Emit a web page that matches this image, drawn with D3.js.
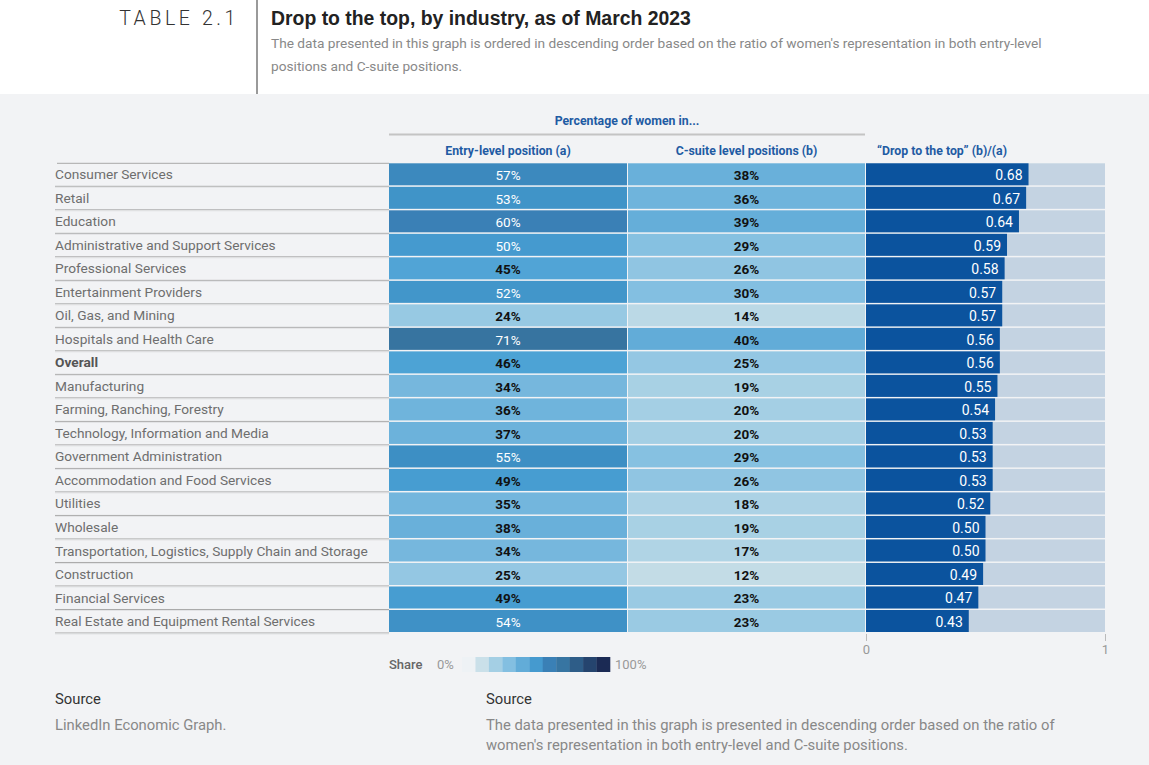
<!DOCTYPE html>
<html lang="en">
  <head>
    <meta charset="UTF-8" />
    <title>Drop to the top, by industry</title>
    <script src="https://d3js.org/d3.v7.min.js"></script>
    <style>
      body {
        margin: 0;
        background: #f2f3f5;
        font-family: Roboto, "Liberation Sans", sans-serif;
      }
      svg {
        display: block;
      }
      .label {
        font-size: 13.7px;
        fill: #6e6e6e;
      }
      .label.overall {
        font-weight: bold;
        fill: #555;
      }
      .head {
        font-size: 12.3px;
        font-weight: bold;
        fill: #1f5ba3;
      }
      .val {
        font-size: 13.5px;
        text-anchor: middle;
      }
    </style>
  </head>
  <body>
    <svg id="chart" width="1149" height="765"></svg>
    <script>
      var industries = [
        "Consumer Services",
        "Retail",
        "Education",
        "Administrative and Support Services",
        "Professional Services",
        "Entertainment Providers",
        "Oil, Gas, and Mining",
        "Hospitals and Health Care",
        "Overall",
        "Manufacturing",
        "Farming, Ranching, Forestry",
        "Technology, Information and Media",
        "Government Administration",
        "Accommodation and Food Services",
        "Utilities",
        "Wholesale",
        "Transportation, Logistics, Supply Chain and Storage",
        "Construction",
        "Financial Services",
        "Real Estate and Equipment Rental Services"
      ];
      var entryLevel = [57, 53, 60, 50, 45, 52, 24, 71, 46, 34, 36, 37, 55, 49, 35, 38, 34, 25, 49, 54];
      var cSuite = [38, 36, 39, 29, 26, 30, 14, 40, 25, 19, 20, 20, 29, 26, 18, 19, 17, 12, 23, 23];
      var dropToTop = [0.68, 0.67, 0.64, 0.59, 0.58, 0.57, 0.57, 0.56, 0.56, 0.55, 0.54, 0.53, 0.53, 0.53, 0.52, 0.50, 0.50, 0.49, 0.47, 0.43];
      var axisTicks = [0, 1];
      var legendSteps = [0, 10, 20, 30, 40, 50, 60, 70, 80, 90, 100];

      var svg = d3.select("#chart");

      // header band
      svg.append("rect").attr("width", 1149).attr("height", 94).attr("fill", "#fff");
      svg.append("line")
        .attr("x1", 257).attr("x2", 257).attr("y1", 0).attr("y2", 94)
        .attr("stroke", "#9a9a9a").attr("stroke-width", 2);
      svg.append("text")
        .attr("x", 239).attr("y", 25)
        .attr("text-anchor", "end")
        .style("font-size", "19.5px")
        .style("font-weight", 300)
        .style("letter-spacing", "3.6px")
        .attr("fill", "#333")
        .text("TABLE 2.1");
      svg.append("text")
        .attr("x", 271).attr("y", 25)
        .style("font-size", "19.4px")
        .style("font-weight", "bold")
        .style("font-family", "'Liberation Sans', Arial, sans-serif")
        .attr("fill", "#222")
        .text("Drop to the top, by industry, as of March 2023");
      svg.append("text")
        .attr("x", 271).attr("y", 48)
        .style("font-size", "13.7px")
        .attr("fill", "#888")
        .text("The data presented in this graph is ordered in descending order based on the ratio of women's representation in both entry-level");
      svg.append("text")
        .attr("x", 271).attr("y", 71)
        .style("font-size", "13.7px")
        .attr("fill", "#888")
        .text("positions and C-suite positions.");

      // layout
      var col = {
        entry: [389, 627],
        csuite: [628, 865],
        drop: [866, 1105]
      };
      var y = d3.scaleBand()
        .domain(industries)
        .range([163.3, 633.5]);
      var x = d3.scaleLinear().domain([0, 1]).range([col.drop[0], col.drop[1]]);

      var color = d3.scaleLinear()
        .domain([0, 12, 20, 30, 40, 47, 55, 60, 71, 100])
        .range(["#eef2f5", "#c3dce6", "#a4cfe4", "#83bfe1", "#62acd8", "#4aa1d5", "#3d8fc4", "#3a80b6", "#3774a0", "#1b2a54"])
        .interpolate(d3.interpolateRgb);

      // column headers
      svg.append("text").attr("class", "head")
        .attr("x", (col.entry[0] + col.csuite[1]) / 2).attr("y", 125)
        .attr("text-anchor", "middle")
        .text("Percentage of women in...");
      svg.append("line")
        .attr("x1", col.entry[0]).attr("x2", col.csuite[1])
        .attr("y1", 134.5).attr("y2", 134.5)
        .attr("stroke", "#c4c4c4").attr("stroke-width", 2);
      svg.append("text").attr("class", "head")
        .attr("x", (col.entry[0] + col.entry[1]) / 2).attr("y", 155)
        .attr("text-anchor", "middle")
        .text("Entry-level position (a)");
      svg.append("text").attr("class", "head")
        .attr("x", (col.csuite[0] + col.csuite[1]) / 2).attr("y", 155)
        .attr("text-anchor", "middle")
        .text("C-suite level positions (b)");
      svg.append("text").attr("class", "head")
        .attr("x", 877).attr("y", 155)
        .text("\u201cDrop to the top\u201d (b)/(a)");

      var rows = industries.map(function (d, i) {
        return { name: d, entry: entryLevel[i], csuite: cSuite[i], drop: dropToTop[i] };
      });

      // label separators
      svg.append("line")
        .attr("x1", 57).attr("x2", col.entry[0])
        .attr("y1", y.range()[0]).attr("y2", y.range()[0])
        .attr("stroke", "#a8a8a8").attr("stroke-width", 1);

      var rowG = svg.append("g").selectAll("g")
        .data(rows)
        .enter()
        .append("g")
        .attr("transform", function (d) {
          return "translate(0," + y(d.name) + ")";
        });

      var h = y.bandwidth();

      rowG.append("line")
        .attr("x1", 55).attr("x2", col.entry[0])
        .attr("y1", h - 0.5).attr("y2", h - 0.5)
        .attr("stroke", "#a8a8a8").attr("stroke-width", 1);
      rowG.append("line")
        .attr("x1", 55).attr("x2", col.entry[0])
        .attr("y1", h + 0.5).attr("y2", h + 0.5)
        .attr("stroke", "#e2e3e5").attr("stroke-width", 1);

      rowG.append("text")
        .attr("class", function (d) {
          return d.name == "Overall" ? "label overall" : "label";
        })
        .attr("x", 55)
        .attr("y", h / 2 - 0.5)
        .attr("dy", "0.35em")
        .text(function (d) { return d.name; });

      // entry level cells
      rowG.append("rect")
        .attr("x", col.entry[0])
        .attr("width", col.entry[1] - col.entry[0])
        .attr("height", h - 1.5)
        .attr("fill", function (d) { return color(d.entry); });
      rowG.append("text")
        .attr("class", "val")
        .attr("x", (col.entry[0] + col.entry[1]) / 2)
        .attr("y", h / 2)
        .attr("dy", "0.37em")
        .attr("fill", function (d) { return d.entry >= 50 ? "#fff" : "#111"; })
        .style("font-weight", function (d) { return d.entry >= 50 ? 400 : "bold"; })
        .text(function (d) { return d.entry + "%"; });

      // c-suite cells
      rowG.append("rect")
        .attr("x", col.csuite[0])
        .attr("width", col.csuite[1] - col.csuite[0])
        .attr("height", h - 1.5)
        .attr("fill", function (d) { return color(d.csuite); });
      rowG.append("text")
        .attr("class", "val")
        .attr("x", (col.csuite[0] + col.csuite[1]) / 2)
        .attr("y", h / 2)
        .attr("dy", "0.37em")
        .attr("fill", function (d) { return d.csuite >= 50 ? "#fff" : "#111"; })
        .style("font-weight", "bold")
        .text(function (d) { return d.csuite + "%"; });

      // drop to the top bars
      rowG.append("rect")
        .attr("x", x(0))
        .attr("width", x(1) - x(0))
        .attr("height", h - 1.5)
        .attr("fill", "#c4d3e2");
      rowG.append("rect")
        .attr("x", x(0))
        .attr("width", function (d) { return x(d.drop) - x(0); })
        .attr("height", h - 1.5)
        .attr("fill", "#0b539e");
      rowG.append("text")
        .attr("x", function (d) { return x(d.drop) - 6; })
        .attr("y", h / 2)
        .attr("dy", "0.37em")
        .attr("text-anchor", "end")
        .attr("fill", "#fff")
        .style("font-size", "14px")
        .text(function (d) { return d3.format(".2f")(d.drop); });

      // axis
      var axis = svg.append("g")
        .attr("transform", "translate(0," + (y.range()[1] + 0.5) + ")")
        .call(d3.axisBottom(x).tickValues(axisTicks).tickSize(7).tickPadding(4).tickFormat(d3.format("d")));
      axis.select(".domain").remove();
      axis.selectAll(".tick line").attr("stroke", "#bbb");
      axis.selectAll(".tick text")
        .attr("fill", "#999")
        .style("font-size", "13px")
        .style("font-family", "Roboto, sans-serif");

      // legend
      var legend = svg.append("g");
      legend.append("text")
        .attr("x", 389).attr("y", 669)
        .style("font-size", "13px")
        .style("font-weight", 500)
        .attr("fill", "#666")
        .text("Share");
      legend.append("text")
        .attr("x", 437).attr("y", 669)
        .style("font-size", "13px")
        .attr("fill", "#999")
        .text("0%");
      var lx = d3.scaleBand().domain(legendSteps).range([462, 610]);
      legend.selectAll("rect")
        .data(legendSteps)
        .enter()
        .append("rect")
        .attr("x", function (d) { return lx(d); })
        .attr("y", 657)
        .attr("width", lx.bandwidth() + 0.3)
        .attr("height", 15)
        .attr("fill", function (d) { return color(d); });
      legend.append("text")
        .attr("x", 615).attr("y", 669)
        .style("font-size", "13px")
        .attr("fill", "#999")
        .text("100%");

      // sources
      var notes = svg.append("g").style("font-size", "14.8px");
      notes.append("text").attr("x", 55).attr("y", 704).attr("fill", "#333").text("Source");
      notes.append("text").attr("x", 55).attr("y", 730).attr("fill", "#888").text("LinkedIn Economic Graph.");
      notes.append("text").attr("x", 486).attr("y", 704).attr("fill", "#333").text("Source");
      notes.append("text").attr("x", 486).attr("y", 730).attr("fill", "#888")
        .text("The data presented in this graph is presented in descending order based on the ratio of");
      notes.append("text").attr("x", 486).attr("y", 750).attr("fill", "#888")
        .text("women's representation in both entry-level and C-suite positions.");
    </script>
  </body>
</html>
